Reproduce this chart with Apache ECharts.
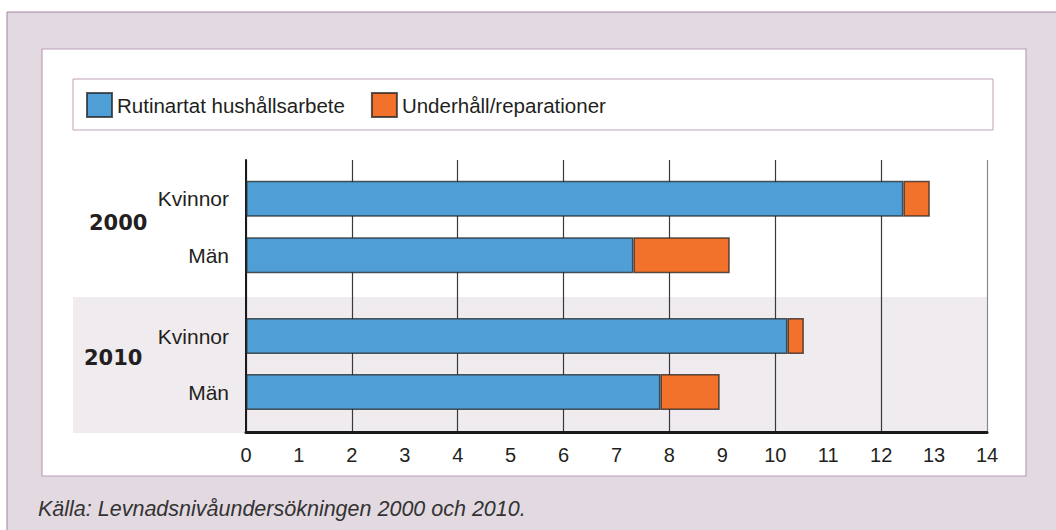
<!DOCTYPE html>
<html>
<head>
<meta charset="utf-8">
<script src="https://cdn.jsdelivr.net/npm/echarts@6/dist/echarts.min.js"></script>
<style>
  html, body { margin: 0; padding: 0; background: #fff; }
  #chart { width: 1056px; height: 530px; }
</style>
</head>
<body>
<div id="chart"></div>
<script>
// Timmar per vecka
const categories = ['Kvinnor', 'Män']
const years = ['2000', '2010']
const rutin2000 = [12.42, 7.32]
const underhall2000 = [0.5, 1.82]
const rutin2010 = [10.23, 7.83]
const underhall2010 = [0.31, 1.12]
const xTicks = [0, 14, 1]

const FONT = '"Liberation Sans", Arial, sans-serif'
const TEXT = '#231f20'
const BLUE = '#4f9fd6'
const ORANGE = '#f2722b'
const barBorder = { borderColor: 'rgba(35,35,35,0.75)', borderWidth: 1.5 }

const chart = echarts.init(document.getElementById('chart'), null, { renderer: 'svg' })

const hiddenX = (grid) => ({
  gridIndex: grid, type: 'value', min: xTicks[0], max: xTicks[1], show: false
})
const catY = (grid) => ({
  gridIndex: grid,
  type: 'category',
  inverse: true,
  data: categories,
  axisLine: { show: false },
  axisTick: { show: false },
  axisLabel: { fontSize: 21, color: TEXT, fontFamily: FONT, margin: 17 }
})

chart.setOption({
  animation: false,
  textStyle: { fontFamily: FONT },
  title: {
    text: 'Källa: Levnadsnivåundersökningen 2000 och 2010.',
    left: 38,
    top: 498,
    padding: 0,
    textStyle: { fontSize: 21.5, fontStyle: 'italic', fontWeight: 'normal', color: '#333', fontFamily: FONT }
  },
  legend: {
    left: 86,
    top: 92,
    padding: 0,
    itemWidth: 25,
    itemHeight: 24,
    itemGap: 26,
    icon: 'rect',
    data: ['Rutinartat hushållsarbete', 'Underhåll/reparationer'],
    textStyle: { fontSize: 20.5, color: TEXT, fontFamily: FONT }
  },
  graphic: [
    { type: 'rect', z: -30, silent: true, shape: { x: 7, y: 12, width: 1060, height: 530 },
      style: { fill: '#e2d9e1', stroke: '#a4849f', lineWidth: 1 } },
    { type: 'rect', z: -20, silent: true, shape: { x: 42, y: 49, width: 984, height: 427 },
      style: { fill: '#fff', stroke: '#bba0b8', lineWidth: 1.2 } },
    { type: 'rect', z: -10, silent: true, shape: { x: 73, y: 79, width: 920, height: 51 },
      style: { fill: '#fff', stroke: '#bda3ba', lineWidth: 1 } },
    { type: 'rect', z: -10, silent: true, shape: { x: 73, y: 297, width: 914, height: 136 },
      style: { fill: '#efebef' } },
    { type: 'text', z: 10, x: 89, y: 223,
      style: { text: years[0], fill: TEXT, font: 'bold 21px "DejaVu Sans", sans-serif', verticalAlign: 'middle' } },
    { type: 'text', z: 10, x: 84, y: 358,
      style: { text: years[1], fill: TEXT, font: 'bold 21px "DejaVu Sans", sans-serif', verticalAlign: 'middle' } }
  ],
  grid: [
    { left: 246, right: 69, top: 160, height: 272 },
    { left: 246, right: 69, top: 170.5, height: 113 },
    { left: 246, right: 69, top: 308, height: 112 }
  ],
  xAxis: [
    {
      gridIndex: 0, type: 'value', min: xTicks[0], max: xTicks[1], interval: xTicks[2],
      axisLine: { show: true, lineStyle: { color: '#1a1a1a', width: 3 } },
      axisTick: { show: false },
      axisLabel: { fontSize: 20, color: TEXT, fontFamily: FONT, margin: 13 },
      splitLine: { show: false }
    },
    {
      gridIndex: 0, type: 'value', min: xTicks[0], max: xTicks[1], interval: 2, position: 'bottom',
      axisLine: { show: false }, axisTick: { show: false }, axisLabel: { show: false },
      splitLine: { show: true, lineStyle: { color: ['#3a3a3a', '#3a3a3a', '#3a3a3a', '#3a3a3a', '#3a3a3a', '#3a3a3a', '#3a3a3a', '#8a8a8a'], width: 1.2 } }
    },
    hiddenX(1),
    hiddenX(2)
  ],
  yAxis: [
    {
      gridIndex: 0, type: 'category', data: [''],
      axisLine: { show: true, lineStyle: { color: '#1a1a1a', width: 2 } },
      axisTick: { show: false }, axisLabel: { show: false }
    },
    catY(1),
    catY(2)
  ],
  series: [
    { name: 'Rutinartat hushållsarbete', type: 'bar', stack: 'y2000', xAxisIndex: 2, yAxisIndex: 1,
      barWidth: 36, data: rutin2000, itemStyle: { color: BLUE, ...barBorder } },
    { name: 'Underhåll/reparationer', type: 'bar', stack: 'y2000', xAxisIndex: 2, yAxisIndex: 1,
      barWidth: 36, data: underhall2000, itemStyle: { color: ORANGE, ...barBorder } },
    { name: 'Rutinartat hushållsarbete', type: 'bar', stack: 'y2010', xAxisIndex: 3, yAxisIndex: 2,
      barWidth: 36, data: rutin2010, itemStyle: { color: BLUE, ...barBorder } },
    { name: 'Underhåll/reparationer', type: 'bar', stack: 'y2010', xAxisIndex: 3, yAxisIndex: 2,
      barWidth: 36, data: underhall2010, itemStyle: { color: ORANGE, ...barBorder } }
  ]
})
</script>
</body>
</html>
